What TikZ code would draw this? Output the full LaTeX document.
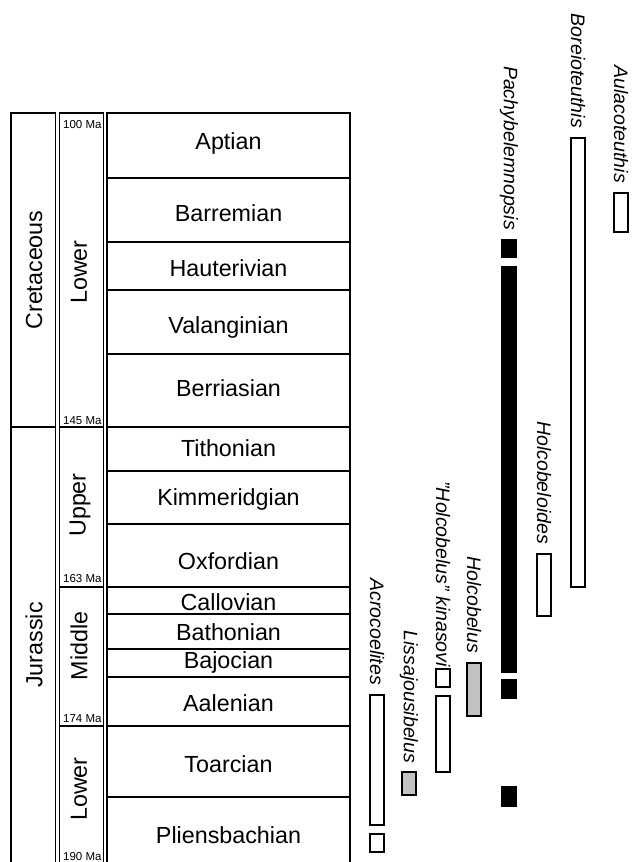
\documentclass[tikz,border=0pt]{standalone}
\usepackage{fontspec}
\setmainfont{Liberation Sans}
\usepackage{tikz}
\usepackage{color}

\definecolor{rangegray}{gray}{0.76}

\begin{document}
\begin{tikzpicture}[%
      x=1pt,
      y=-1pt,
      cell/.style={color=black, line width=1.3pt},
      bar/.style={draw=black, line width=1.3pt},
      stage/.style={font=\fontsize{23.3}{28}\selectfont},
      unit/.style={font=\fontsize{23.3}{28}\selectfont, rotate=90},
      age/.style={font=\fontsize{11.5}{13}\selectfont, anchor=base west, inner sep=0pt},
      taxon/.style={font=\fontsize{19.5}{23}\selectfont\itshape, rotate=-90, anchor=east, inner sep=0pt},
      ]
      \useasboundingbox (0,0) rectangle (633,862);
      \clip (0,0) rectangle (633,862);

      % periods
      \draw [cell] (11,113) rectangle (55.5,427);
      \draw [cell] (11,427) rectangle (55.5,880);

      % epochs
      \draw [cell] (59.5,113) rectangle (103.5,427);
      \draw [cell] (59.5,427) rectangle (103.5,587);
      \draw [cell] (59.5,587) rectangle (103.5,726);
      \draw [cell] (59.5,726) rectangle (103.5,880);

      % stages
      \draw [cell] (107,113) rectangle (350,178);
      \draw [cell] (107,178) rectangle (350,242);
      \draw [cell] (107,242) rectangle (350,290);
      \draw [cell] (107,290) rectangle (350,354);
      \draw [cell] (107,354) rectangle (350,427);
      \draw [cell] (107,427) rectangle (350,471);
      \draw [cell] (107,471) rectangle (350,524);
      \draw [cell] (107,524) rectangle (350,587);
      \draw [cell] (107,587) rectangle (350,614);
      \draw [cell] (107,614) rectangle (350,649);
      \draw [cell] (107,649) rectangle (350,677);
      \draw [cell] (107,677) rectangle (350,726);
      \draw [cell] (107,726) rectangle (350,797);
      \draw [cell] (107,797) rectangle (350,880);

      \node [unit] (cretaceous) at (34,270) {Cretaceous};
      \node [unit] (jurassic) at (34,645) {Jurassic};

      \node [unit] (lowercret) at (79,272) {Lower};
      \node [unit] (upperjur) at (80,505) {Upper};
      \node [unit] (middlejur) at (79,646) {Middle};
      \node [unit] (lowerjur) at (79,789) {Lower};

      \node [age] (ma100) at (63,128) {100 Ma};
      \node [age] (ma145) at (63,424) {145 Ma};
      \node [age] (ma163) at (63,582) {163 Ma};
      \node [age] (ma174) at (63,722) {174 Ma};
      \node [age] (ma190) at (63,860) {190 Ma};

      \node [stage] (aptian) at (228.5,143) {Aptian};
      \node [stage] (barremian) at (228.5,213) {Barremian};
      \node [stage] (hauterivian) at (228.5,268) {Hauterivian};
      \node [stage] (valanginian) at (228.5,327) {Valanginian};
      \node [stage] (berriasian) at (228.5,388) {Berriasian};
      \node [stage] (tithonian) at (228.5,448) {Tithonian};
      \node [stage] (kimmeridgian) at (228.5,499) {Kimmeridgian};
      \node [stage] (oxfordian) at (228.5,561) {Oxfordian};
      \node [stage] (callovian) at (228.5,602) {Callovian};
      \node [stage] (bathonian) at (228.5,632) {Bathonian};
      \node [stage] (bajocian) at (228.5,662) {Bajocian};
      \node [stage] (aalenian) at (228.5,703) {Aalenian};
      \node [stage] (toarcian) at (228.5,764) {Toarcian};
      \node [stage] (pliensbachian) at (228.5,835) {Pliensbachian};

      % ranges
      \filldraw [bar, fill=white] (614,193) rectangle (628,232);
      \filldraw [bar, fill=white] (571,138) rectangle (585,587);

      \filldraw [bar, fill=black] (502,240) rectangle (516,257);
      \filldraw [bar, fill=black] (502,267) rectangle (516,672);
      \filldraw [bar, fill=black] (502,680) rectangle (516,698);
      \filldraw [bar, fill=black] (502,787) rectangle (516,806);

      \filldraw [bar, fill=white] (537,554) rectangle (551,616);

      \filldraw [bar, fill=rangegray] (467,663) rectangle (481,716);

      \filldraw [bar, fill=white] (436,669) rectangle (450,687);
      \filldraw [bar, fill=white] (436,696) rectangle (450,772);

      \filldraw [bar, fill=rangegray] (402,772) rectangle (416,795);

      \filldraw [bar, fill=white] (370,695) rectangle (384,825);
      \filldraw [bar, fill=white] (370,834) rectangle (384,852);

      \node [taxon] (aulacoteuthis) at (621,183) {Aulacoteuthis};
      \node [taxon] (boreioteuthis) at (578,128) {Boreioteuthis};
      \node [taxon] (pachybelemnopsis) at (509,230) {Pachybelemnopsis};
      \node [taxon] (holcobeloides) at (544,544) {Holcobeloides};
      \node [taxon] (holcobelus) at (474,653) {Holcobelus};
      \node [taxon] (kinasovi) at (443,667) {"Holcobelus" kinasovi};
      \node [taxon] (lissajousibelus) at (409,763) {Lissajousibelus};
      \node [taxon] (acrocoelites) at (377,685) {Acrocoelites};
      \end{tikzpicture}
\end{document}
